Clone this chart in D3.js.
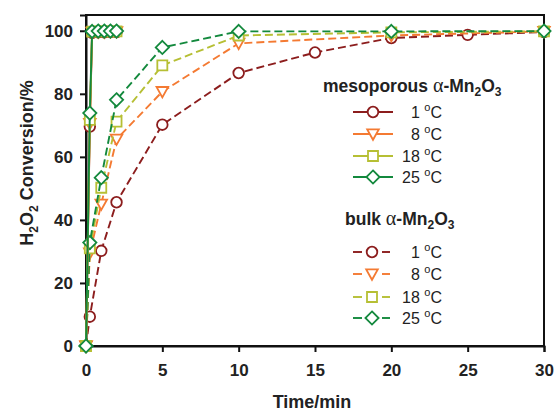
<!DOCTYPE html>
<html>
<head>
<meta charset="utf-8">
<script src="https://cdn.jsdelivr.net/npm/d3@7"></script>
<style>
  body { margin: 0; background: #fff; }
  text { font-family: "Liberation Sans", Arial, sans-serif; }
</style>
</head>
<body>
<div id="chart"></div>
<script>
//DATA
const seriesLabels = ["1", "8", "18", "25"];
const mesoTimes = [0, 0.25, 0.4, 0.8, 1.2, 1.6, 2];
const meso1 = [0, 69.6, 99.3, 99.5, 99.5, 99.6, 99.6];
const meso8 = [0, 70.6, 99.5, 99.6, 99.6, 99.7, 99.7];
const meso18 = [0, 71.7, 99.7, 99.8, 99.8, 99.8, 99.8];
const meso25 = [0, 73.9, 99.8, 99.9, 99.9, 99.9, 99.9];

const bulkTimes1 = [0, 0.25, 1, 2, 5, 10, 15, 20, 25, 30];
const bulkTimes = [0, 0.25, 1, 2, 5, 10, 20, 30];
const bulk1 = [0, 9.3, 30.2, 45.6, 70.2, 86.6, 93.1, 97.7, 98.7, 99.6];
const bulk8 = [0, 29.5, 45, 65.6, 80.7, 96.0, 98.5, 99.8];
const bulk18 = [0, 31, 50.2, 71.2, 89, 98.5, 99.5, 99.8];
const bulk25 = [0, 32.8, 53.4, 78.1, 94.7, 99.8, 99.8, 99.9];

const xTicks = [0, 5, 10, 15, 20, 25, 30];
const yTicks = [0, 20, 40, 60, 80, 100];

//COLORS
const COLORS = ["#8c1d1d", "#f47a32", "#b6bf34", "#13893d"];
const SHAPES = ["circle", "triangle", "square", "diamond"];

//INIT
const width = 555, height = 411;
const margin = { left: 86, right: 11, top: 15, bottom: 65 };

const svg = d3.select("#chart")
    .append("svg")
    .attr("width", width)
    .attr("height", height);

const x = d3.scaleLinear().domain([0, 30]).range([margin.left, width - margin.right]);
const y = d3.scaleLinear().domain([0, 105]).range([height - margin.bottom, margin.top]);

const shapePath = (shape) => {
    if (shape === "circle") return "M5.3,0A5.3,5.3 0 1,1 -5.3,0A5.3,5.3 0 1,1 5.3,0Z";
    if (shape === "triangle") return "M-5.8,-4.6L5.8,-4.6L0,5.8Z";
    if (shape === "square") return "M-5,-5L5,-5L5,5L-5,5Z";
    return "M0,-6.6L6.6,0L0,6.6L-6.6,0Z";
};

const series = [
    { times: bulkTimes1, values: bulk1, i: 0, dashed: true },
    { times: bulkTimes, values: bulk8, i: 1, dashed: true },
    { times: bulkTimes, values: bulk18, i: 2, dashed: true },
    { times: bulkTimes, values: bulk25, i: 3, dashed: true },
    { times: mesoTimes, values: meso1, i: 0, dashed: false },
    { times: mesoTimes, values: meso8, i: 1, dashed: false },
    { times: mesoTimes, values: meso18, i: 2, dashed: false },
    { times: mesoTimes, values: meso25, i: 3, dashed: false }
];

//FRAME
svg.append("rect")
    .attr("x", margin.left)
    .attr("y", margin.top)
    .attr("width", x(30) - x(0))
    .attr("height", y(0) - y(105))
    .attr("fill", "none")
    .attr("stroke", "#111")
    .attr("stroke-width", 2);

//AXES
const xAxis = svg.append("g")
    .attr("transform", `translate(0,${y(0)})`)
    .call(d3.axisBottom(x).tickValues(xTicks).tickSize(6).tickPadding(12).tickFormat(d3.format("d")));
const yAxis = svg.append("g")
    .attr("transform", `translate(${x(0)},0)`)
    .call(d3.axisLeft(y).tickValues(yTicks).tickSize(6).tickPadding(7).tickFormat(d3.format("d")));

[xAxis, yAxis].forEach(g => {
    g.select(".domain").attr("stroke", "#111").attr("stroke-width", 2);
    g.selectAll(".tick line").attr("stroke", "#111").attr("stroke-width", 2);
    g.selectAll(".tick text")
        .attr("fill", "#222")
        .attr("font-size", "17px")
        .attr("font-weight", "bold")
        .attr("font-family", "'Liberation Sans', Arial, sans-serif");
});

//LINES
const line = d3.line().x(d => x(d[0])).y(d => y(d[1]));

series.forEach(s => {
    const pts = s.times.map((t, k) => [t, s.values[k]]);
    svg.append("path")
        .datum(pts)
        .attr("d", line)
        .attr("fill", "none")
        .attr("stroke", COLORS[s.i])
        .attr("stroke-width", 1.9)
        .attr("stroke-dasharray", s.dashed ? "8,4" : null);
    svg.append("g")
        .selectAll("path")
        .data(pts)
        .enter()
        .append("path")
        .attr("transform", d => `translate(${x(d[0])},${y(d[1])})`)
        .attr("d", shapePath(SHAPES[s.i]))
        .attr("fill", "#fff")
        .attr("stroke", COLORS[s.i])
        .attr("stroke-width", 1.8);
});

//AXIS TITLES
svg.append("text")
    .attr("x", 312)
    .attr("y", 408)
    .attr("text-anchor", "middle")
    .attr("font-size", "18px")
    .attr("font-weight", "bold")
    .attr("fill", "#222")
    .text("Time/min");

const yTitle = svg.append("text")
    .attr("transform", "translate(33,163) rotate(-90)")
    .attr("text-anchor", "middle")
    .attr("font-size", "18px")
    .attr("font-weight", "bold")
    .attr("fill", "#222");
yTitle.append("tspan").text("H");
yTitle.append("tspan").attr("font-size", "12px").attr("dy", 5).text("2");
yTitle.append("tspan").attr("dy", -5).text("O");
yTitle.append("tspan").attr("font-size", "12px").attr("dy", 5).text("2");
yTitle.append("tspan").attr("dy", -5).text(" Conversion/%");

//LEGEND
const legends = [
    { title: "mesoporous ", tx: 323, ty: 92, rows: [112, 134, 156, 177], dashed: false },
    { title: "bulk ", tx: 345, ty: 225, rows: [252, 274, 297, 318], dashed: true }
];

legends.forEach(L => {
    const t = svg.append("text")
        .attr("x", L.tx)
        .attr("y", L.ty)
        .attr("font-size", "17.5px")
        .attr("font-weight", "bold")
        .attr("fill", "#222");
    t.append("tspan").text(L.title);
    t.append("tspan").attr("font-weight", "normal").attr("font-family", "'Liberation Serif', serif").attr("font-size", "20px").text("α");
    t.append("tspan").text("-Mn");
    t.append("tspan").attr("font-size", "12px").attr("dy", 4).text("2");
    t.append("tspan").attr("dy", -4).text("O");
    t.append("tspan").attr("font-size", "12px").attr("dy", 4).text("3");

    L.rows.forEach((ry, i) => {
        const g = svg.append("g");
        if (L.dashed) {
            g.append("line").attr("x1", 353).attr("x2", 362).attr("y1", ry).attr("y2", ry)
                .attr("stroke", COLORS[i]).attr("stroke-width", 1.9);
            g.append("line").attr("x1", 382).attr("x2", 390).attr("y1", ry).attr("y2", ry)
                .attr("stroke", COLORS[i]).attr("stroke-width", 1.9);
        } else {
            g.append("line").attr("x1", 353).attr("x2", 393).attr("y1", ry).attr("y2", ry)
                .attr("stroke", COLORS[i]).attr("stroke-width", 1.9);
        }
        g.append("path")
            .attr("transform", `translate(${L.dashed ? 372 : 373},${ry})`)
            .attr("d", shapePath(SHAPES[i]))
            .attr("fill", "#fff")
            .attr("stroke", COLORS[i])
            .attr("stroke-width", 1.8);
        const lt = g.append("text")
            .attr("x", 442)
            .attr("y", ry + 6)
            .attr("text-anchor", "end")
            .attr("font-size", "16px")
            .attr("fill", "#222");
        lt.append("tspan").text(seriesLabels[i] + " ");
        lt.append("tspan").attr("font-size", "11px").attr("dy", -7).text("o");
        lt.append("tspan").attr("dy", 7).text("C");
    });
});
</script>
</body>
</html>
